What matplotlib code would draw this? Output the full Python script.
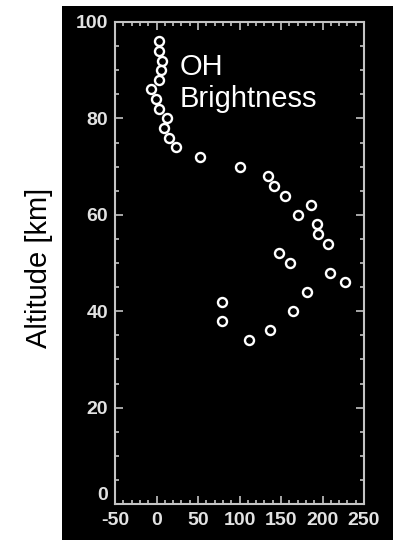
import matplotlib
matplotlib.use('Agg')
import matplotlib.pyplot as plt
from matplotlib.patches import Rectangle
from matplotlib.ticker import MultipleLocator

plt.rcParams['axes.unicode_minus'] = False

# OH brightness profile vs altitude
altitude = [96, 94, 92, 90, 88, 86, 84, 82, 80, 78, 76, 74, 72, 70, 68, 66,
            64, 62, 60, 58, 56, 54, 52, 50, 48, 46, 44, 42, 40, 38, 36, 34]
brightness = [3, 3, 7, 5, 3, -7, -1, 3, 13, 9, 15, 23, 53, 100, 134, 142,
              155, 186, 170, 193, 195, 207, 148, 161, 209, 227, 181, 79, 165, 79, 137, 111]
xticks = [-50, 0, 50, 100, 150, 200, 250]
yticks = [0, 20, 40, 60, 80, 100]

fig = plt.figure(figsize=(3.93, 5.4), dpi=100)
fig.patch.set_facecolor('white')
# black panel behind the plot
fig.patches.append(Rectangle((62 / 393, 0), 1 - 62 / 393, 534 / 540,
                             transform=fig.transFigure, facecolor='black',
                             edgecolor='none', zorder=-5))

ax = fig.add_axes([115 / 393, 36 / 540, 249 / 393, 482 / 540])
ax.set_facecolor('black')
ax.plot(brightness, altitude, linestyle='none', marker='o', markersize=6.5,
        markerfacecolor='black', markeredgecolor='white', markeredgewidth=1.7)

ax.set_xlim(-50, 250)
ax.set_ylim(0, 100)
ax.set_xticks(xticks)
ax.set_yticks(yticks)
ax.xaxis.set_minor_locator(MultipleLocator(10))
ax.yaxis.set_minor_locator(MultipleLocator(5))

grey = '#c4c4c4'
for s in ax.spines.values():
    s.set_color(grey)
    s.set_linewidth(1.5)
ax.tick_params(which='both', direction='in', top=True, right=True, color=grey,
               labelcolor='#e2e2e2', width=1.2)
ax.tick_params(which='major', length=6, pad=5)
ax.tick_params(axis='x', which='major', pad=6)
ax.tick_params(which='minor', length=3)
for lab in ax.get_xticklabels() + ax.get_yticklabels():
    lab.set_fontsize(14)
    lab.set_fontweight('bold')
    lab.set_family('Liberation Sans')
# the "0" on the altitude axis sits just above the corner
ax.yaxis.get_major_ticks()[0].label1.set_verticalalignment('bottom')

ax.text(28, 93.6, 'OH\nBrightness', color='white', fontsize=21,
        family='Liberation Sans', ha='left', va='top')

fig.text(39 / 393, 0.5037, 'Altitude [km]', rotation=90, fontsize=21,
         family='Liberation Sans', color='black', ha='center', va='center')

fig.savefig('out.png', dpi=100)
